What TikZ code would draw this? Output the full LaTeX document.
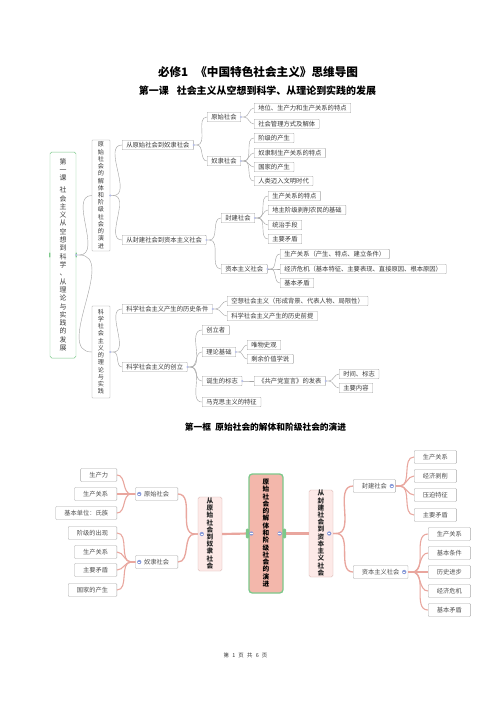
\documentclass[tikz,border=0pt]{standalone}
\usepackage{fontspec}
\setmainfont{Noto Sans CJK SC}
\usepackage{xcolor}
\definecolor{mmLine}{HTML}{A3A3A3}
\definecolor{mmInk}{HTML}{3A3A3A}
\definecolor{mmGreen}{HTML}{7DC98B}
\definecolor{mmDot}{HTML}{B4BCEB}
\definecolor{bmPink}{HTML}{E9A69E}
\definecolor{bmCore}{HTML}{F3B7AB}
\definecolor{bmLight}{HTML}{FDEAE8}
\definecolor{bmMidLine}{HTML}{D7B1AC}
\definecolor{bmLine}{HTML}{A9A9A9}
\definecolor{bmInk}{HTML}{4F4F4F}
\definecolor{bmBlue}{HTML}{8B9DDA}
\usetikzlibrary{calc}

% one character per line, each line exactly \vpitch high
\newlength\vpitch
\newcommand\vgap{}
\newcommand\vch[1]{\ifx\vgap#1\rule{0pt}{0.45\vpitch}\else\rule[-0.22\vpitch]{0pt}{\vpitch}#1\fi}
\newcommand\vtext[1]{\vtexti#1\relax}
\def\vtexti#1#2\relax{\vch{#1}\vtextii#2\relax}
\def\vtextii#1{\ifx\relax#1\else\\\vch{#1}\expandafter\vtextii\fi}

\tikzset{
    mmbox/.style={font=\fontsize{7.6}{9}\selectfont, text=mmInk, draw=mmLine, fill=white,
        line width=0.45pt, rounded corners=0.8pt, inner xsep=5pt, inner ysep=2.2pt,
        text height=6pt, text depth=1pt, anchor=west},
    mmbar/.style={font=\fontsize{7.4}{8.7}\selectfont\setlength\vpitch{8.7pt}\offinterlineskip,
        text=mmInk, draw=mmLine, fill=white,
        line width=0.45pt, rounded corners=0.8pt, align=center, inner sep=0pt},
    mmroot/.style={font=\fontsize{8.3}{10}\selectfont\setlength\vpitch{10pt}\offinterlineskip,
        text=mmInk, draw=mmGreen, fill=white,
        line width=0.6pt, rounded corners=2pt, align=center, inner sep=0pt},
    mmdot/.style={circle, fill=mmDot, inner sep=0pt, minimum size=2.6pt},
    mmhandle/.style={fill=mmGreen, rounded corners=0.8pt, inner sep=0pt, minimum width=1.8pt, minimum height=6pt},
    mmlink/.style={draw=mmLine, line width=0.5pt},
    bmbox/.style={font=\fontsize{7.5}{9}\selectfont, text=bmInk, draw=bmLine, fill=white,
        line width=0.5pt, rounded corners=1pt, inner xsep=10.5pt, inner ysep=4.3pt,
        text height=6pt, text depth=1pt},
    bmmid/.style={font=\bfseries\fontsize{8}{8.4}\selectfont\setlength\vpitch{8.4pt}\offinterlineskip,
        text=black!85, draw=bmMidLine, fill=bmLight,
        line width=0.5pt, rounded corners=2pt, align=center, inner sep=0pt},
    bmcore/.style={font=\bfseries\fontsize{8}{8.7}\selectfont\setlength\vpitch{8.7pt}\offinterlineskip,
        text=black, draw=mmGreen, fill=bmCore,
        line width=1.6pt, rounded corners=4pt, align=center, inner sep=0pt},
    bmdot/.style={circle, fill=bmBlue, inner sep=0pt, minimum size=5.2pt,
        path picture={\draw[white, line width=0.7pt]
            ([xshift=-1.5pt]path picture bounding box.center) -- ([xshift=1.5pt]path picture bounding box.center);}},
    bmhandle/.style={fill=mmGreen, rounded corners=1.5pt, inner sep=0pt, minimum width=4pt, minimum height=12pt},
    bmlink/.style={draw=bmPink, line width=1.3pt}
}

\begin{document}
\begin{tikzpicture}[x=0.4234mm, y=-0.4234mm]
  \def\px{0.4234mm}

  % Page
  \fill[white] (0,0) rectangle (496,702);
  \path[use as bounding box] (0,0) rectangle (496,702);

  % Headings
  \node[font=\bfseries\fontsize{14}{16}\selectfont] (title) at (258,72)
    {必修1\hspace{0.6em}《中国特色社会主义》思维导图};
  \node[font=\bfseries\fontsize{12}{14}\selectfont] (lesson) at (257.5,91)
    {第一课\hspace{0.8em}社会主义从空想到科学、从理论到实践的发展};
  \node[font=\bfseries\fontsize{10.5}{12}\selectfont] (frame) at (265.5,427)
    {第一框\hspace{0.5em}原始社会的解体和阶级社会的演进};
  \node[font=\fontsize{6.5}{8}\selectfont, text=black!80] (footer) at (245.5,655)
    {第\hspace{0.6em}1\hspace{0.6em}页\hspace{0.6em}共\hspace{0.6em}6\hspace{0.6em}页};

  % ---------- Upper map ----------
  \node[mmroot, minimum width={26*\px}, minimum height={206*\px}] (root) at (63,255)
    {\vtext{第一课\vgap 社会主义从空想到科学、从理论与实践的发展}};
  \node[mmbar, minimum width={18*\px}, minimum height={111*\px}] (evo) at (101,195.5)
    {\vtext{原始社会的解体和阶级社会的演进}};
  \node[mmbar, minimum width={18*\px}, minimum height={92*\px}] (sci) at (101,352)
    {\vtext{科学社会主义的理论与实践}};

  \node[mmbox] (pToS)     at (122,145) {从原始社会到奴隶社会};
  \node[mmbox] (fToC)     at (122,240) {从封建社会到资本主义社会};
  \node[mmbox] (histCond) at (122,309) {科学社会主义产生的历史条件};
  \node[mmbox] (founding) at (122,367) {科学社会主义的创立};

  \node[mmbox] (prim)  at (207,117) {原始社会};
  \node[mmbox] (slave) at (207,161) {奴隶社会};
  \node[mmbox] (feud)  at (221,218) {封建社会};
  \node[mmbox] (capi)  at (221,269) {资本主义社会};

  \node[mmbox] (prim1)  at (254,108) {地位、生产力和生产关系的特点};
  \node[mmbox] (prim2)  at (254,124) {社会管理方式及解体};
  \node[mmbox] (slave1) at (254,138) {阶级的产生};
  \node[mmbox] (slave2) at (254,153) {奴隶制生产关系的特点};
  \node[mmbox] (slave3) at (254,167) {国家的产生};
  \node[mmbox] (slave4) at (254,181) {人类迈入文明时代};

  \node[mmbox] (feud1) at (268,196) {生产关系的特点};
  \node[mmbox] (feud2) at (268,210) {地主阶级剥削农民的基础};
  \node[mmbox] (feud3) at (268,225) {统治手段};
  \node[mmbox] (feud4) at (268,239) {主要矛盾};
  \node[mmbox] (capi1) at (280,254) {生产关系（产生、特点、建立条件）};
  \node[mmbox] (capi2) at (280,269) {经济危机（基本特征、主要表现、直接原因、根本原因）};
  \node[mmbox] (capi3) at (280,283) {基本矛盾};

  \node[mmbox] (hist1) at (227,301) {空想社会主义（形成背景、代表人物、局限性）};
  \node[mmbox] (hist2) at (227,316) {科学社会主义产生的历史前提};

  \node[mmbox] (fnd1) at (202,330) {创立者};
  \node[mmbox] (fnd2) at (202,352) {理论基础};
  \node[mmbox] (fnd3) at (202,381) {诞生的标志};
  \node[mmbox] (fnd4) at (202,402) {马克思主义的特征};
  \node[mmbox] (base1) at (247,345) {唯物史观};
  \node[mmbox] (base2) at (247,359) {剩余价值学说};
  \node[mmbox] (mani)  at (254,381) {《共产党宣言》的发表};
  \node[mmbox] (mani1) at (339,374) {时间、标志};
  \node[mmbox] (mani2) at (339,388) {主要内容};

  % Upper links
  \foreach \p/\c in {root/evo, root/sci, evo/pToS, evo/fToC, sci/histCond, sci/founding,
      pToS/prim, pToS/slave, fToC/feud, fToC/capi, prim/prim1, prim/prim2,
      slave/slave1, slave/slave2, slave/slave3, slave/slave4,
      feud/feud1, feud/feud2, feud/feud3, feud/feud4, capi/capi1, capi/capi2, capi/capi3,
      histCond/hist1, histCond/hist2, founding/fnd1, founding/fnd2, founding/fnd3, founding/fnd4,
      fnd2/base1, fnd2/base2, fnd3/mani, mani/mani1, mani/mani2}{
    \draw[mmlink] (\p.east) -- ++(3,0) to[out=0,in=180] (\c.west);
  }

  % Handles and collapse dots
  \node[mmhandle] (rootL) at (root.west) {};
  \node[mmhandle] (rootR) at (root.east) {};
  \foreach \p in {root, evo, sci, pToS, fToC, histCond, founding, prim, slave, feud, capi, fnd2, fnd3, mani}
    \node[mmdot] at (\p.east) {};

  % ---------- Lower map ----------
  \node[bmcore, minimum width={34*\px}, minimum height={119*\px}] (core) at (266,533.5)
    {\vtext{原始社会的解体和阶级社会的演进}};
  \node[bmmid, minimum width={24*\px}, minimum height={74*\px}] (bL) at (210,534)
    {\vtext{从原始社会到奴隶社会}};
  \node[bmmid, minimum width={24*\px}, minimum height={87*\px}] (bR) at (321,533.5)
    {\vtext{从封建社会到资本主义社会}};

  \node[bmbox, anchor=east] (bPrim)  at (178,494) {原始社会};
  \node[bmbox, anchor=east] (bSlave) at (178,562) {奴隶社会};
  \node[bmbox, anchor=west] (bFeud)  at (353,486) {封建社会};
  \node[bmbox, anchor=west] (bCapi)  at (353,572) {资本主义社会};

  \node[bmbox, anchor=east] (bPrim1)  at (117,475) {生产力};
  \node[bmbox, anchor=east] (bPrim2)  at (117,494) {生产关系};
  \node[bmbox, anchor=east] (bPrim3)  at (117,513) {基本单位：氏族};
  \node[bmbox, anchor=east] (bSlave1) at (117,533) {阶级的出现};
  \node[bmbox, anchor=east] (bSlave2) at (117,552) {生产关系};
  \node[bmbox, anchor=east] (bSlave3) at (117,570) {主要矛盾};
  \node[bmbox, anchor=east] (bSlave4) at (117,590) {国家的产生};

  \node[bmbox, anchor=west] (bFeud1) at (414,457) {生产关系};
  \node[bmbox, anchor=west] (bFeud2) at (414,476) {经济剥削};
  \node[bmbox, anchor=west] (bFeud3) at (414,495) {压迫特征};
  \node[bmbox, anchor=west] (bFeud4) at (414,515) {主要矛盾};
  \node[bmbox, anchor=west] (bCapi1) at (428,534) {生产关系};
  \node[bmbox, anchor=west] (bCapi2) at (428,553) {基本条件};
  \node[bmbox, anchor=west] (bCapi3) at (428,572) {历史进步};
  \node[bmbox, anchor=west] (bCapi4) at (428,591) {经济危机};
  \node[bmbox, anchor=west] (bCapi5) at (428,610) {基本矛盾};

  % Lower links
  \draw[bmlink, line width=2.6pt] (core.west) -- (bL.east);
  \draw[bmlink, line width=2.6pt] (core.east) -- (bR.west);
  \foreach \p/\c in {bL/bPrim, bL/bSlave}
    \draw[bmlink, line width=1.6pt] (\p.west) -- ++(-3,0) to[out=180,in=0] (\c.east);
  \foreach \p/\c in {bR/bFeud, bR/bCapi}
    \draw[bmlink, line width=1.6pt] (\p.east) -- ++(3,0) to[out=0,in=180] (\c.west);
  \foreach \p/\c in {bPrim/bPrim1, bPrim/bPrim2, bPrim/bPrim3,
      bSlave/bSlave1, bSlave/bSlave2, bSlave/bSlave3, bSlave/bSlave4}
    \draw[bmlink] (\p.west) -- ++(-4,0) to[out=180,in=0] (\c.east);
  \foreach \p/\c in {bFeud/bFeud1, bFeud/bFeud2, bFeud/bFeud3, bFeud/bFeud4,
      bCapi/bCapi1, bCapi/bCapi2, bCapi/bCapi3, bCapi/bCapi4, bCapi/bCapi5}
    \draw[bmlink] (\p.east) -- ++(4,0) to[out=0,in=180] (\c.west);

  % Handles and collapse dots
  \node[bmhandle, anchor=east] (coreL) at ($(core.west)+(1,0)$) {};
  \node[bmhandle, anchor=west] (coreR) at ($(core.east)+(-1,0)$) {};
  \node[bmdot] at ($(core.west)+(3,0)$) {};
  \node[bmdot] at ($(core.east)+(-4,0)$) {};
  \node[bmdot] at ($(bL.west)+(4,0)$) {};
  \node[bmdot] at ($(bR.east)+(-4,0)$) {};
  \node[bmdot] at ($(bPrim.west)+(4,0)$) {};
  \node[bmdot] at ($(bSlave.west)+(4,0)$) {};
  \node[bmdot] at ($(bFeud.east)+(-4,0)$) {};
  \node[bmdot] at ($(bCapi.east)+(-4,0)$) {};

\end{tikzpicture}
\end{document}
